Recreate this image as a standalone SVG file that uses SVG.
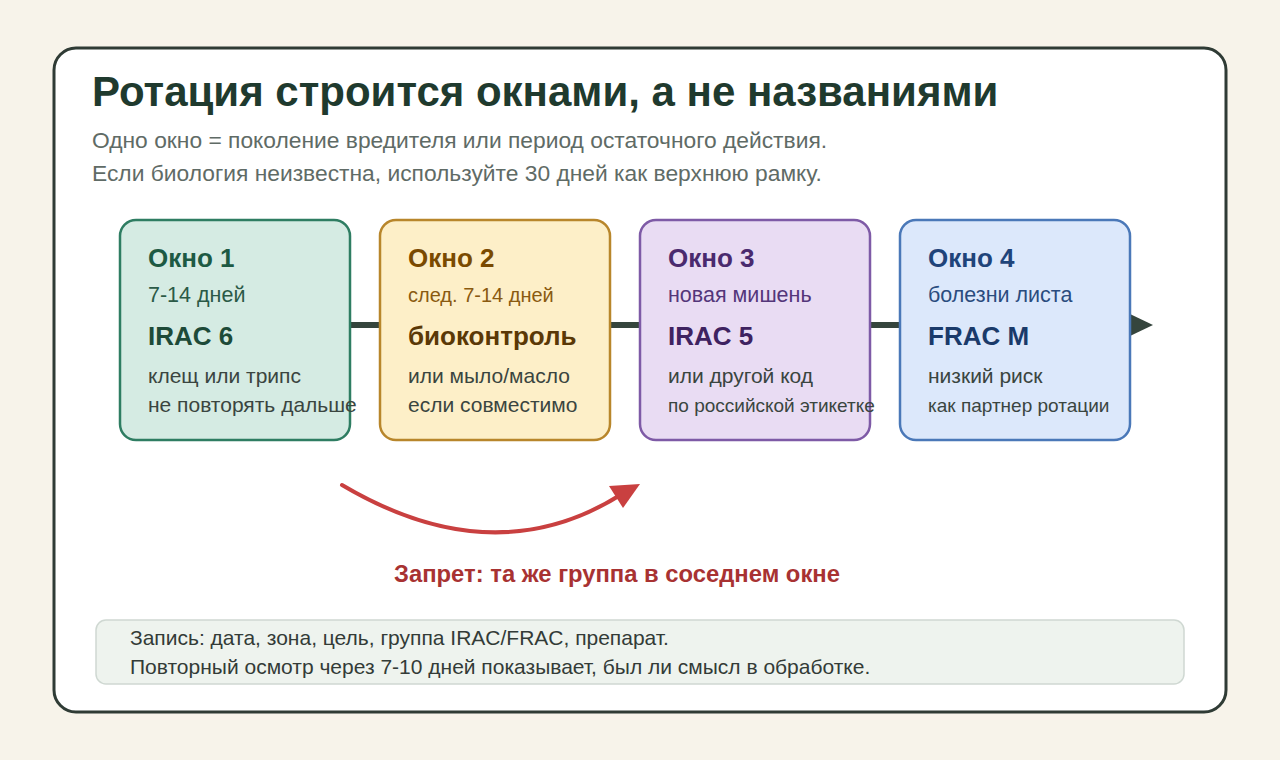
<svg xmlns="http://www.w3.org/2000/svg" width="1280" height="760" viewBox="0 0 1280 760">
<defs>
<style>
text{font-family:"Liberation Sans",Arial,sans-serif}
.t{font-size:42px;font-weight:bold;fill:#1f3a2e}
.s{font-size:22.8px;fill:#5f6b66}
.h{font-size:26px;font-weight:bold}
.m{font-size:21.5px}
.b{font-size:21px;fill:#3a4540}
.bs{font-size:19px;fill:#3a4540}
.n{font-size:21px;fill:#333b37}
.box{stroke-width:2.5}
</style>
</defs>
<rect x="0" y="0" width="1280" height="760" fill="#f7f3ea"/>
<rect x="54" y="48" width="1172" height="664" rx="22" fill="#ffffff" stroke="#2f3b35" stroke-width="3"/>
<text class="t" x="92" y="106">Ротация строится окнами, а не названиями</text>
<text class="s" x="92" y="148">Одно окно = поколение вредителя или период остаточного действия.</text>
<text class="s" x="92" y="181">Если биология неизвестна, используйте 30 дней как верхнюю рамку.</text>
<g id="connectors">
<line x1="340" y1="325" x2="1132" y2="325" stroke="#35453d" stroke-width="6"/>
<polygon points="1130,314 1153,325 1130,336" fill="#35453d"/>
<path d="M342,485 Q494,575 622,494" fill="none" stroke="#c94040" stroke-width="4" stroke-linecap="round"/>
<polygon points="640,484 609,486 623,508" fill="#c94040"/>
</g>
<g id="window1">
<rect class="box" x="120" y="220" width="230" height="220" rx="16" fill="#d5ebe3" stroke="#2e7d62"/>
<text class="h" x="148" y="267" fill="#1d5a43">Окно 1</text>
<text class="m" x="148" y="302" fill="#2b5a47">7-14 дней</text>
<text class="h" x="148" y="345" fill="#1d4a38">IRAC 6</text>
<text class="b" x="148" y="383">клещ или трипс</text>
<text class="b" x="148" y="412">не повторять дальше</text>
</g>
<g id="window2">
<rect class="box" x="380" y="220" width="230" height="220" rx="16" fill="#fdefc8" stroke="#b8862b"/>
<text class="h" x="408" y="267" fill="#7a4a00">Окно 2</text>
<text x="408" y="302" fill="#8a5a10" style="font-size:20px">след. 7-14 дней</text>
<text class="h" x="408" y="345" fill="#5a3806">биоконтроль</text>
<text class="b" x="408" y="383">или мыло/масло</text>
<text class="b" x="408" y="412">если совместимо</text>
</g>
<g id="window3">
<rect class="box" x="640" y="220" width="230" height="220" rx="16" fill="#e9dcf3" stroke="#7e5aa6"/>
<text class="h" x="668" y="267" fill="#4a2a6e">Окно 3</text>
<text class="m" x="668" y="302" fill="#54367a">новая мишень</text>
<text class="h" x="668" y="345" fill="#3e2260">IRAC 5</text>
<text class="b" x="668" y="383">или другой код</text>
<text class="bs" x="668" y="412">по российской этикетке</text>
</g>
<g id="window4">
<rect class="box" x="900" y="220" width="230" height="220" rx="16" fill="#dce8fb" stroke="#4a78b8"/>
<text class="h" x="928" y="267" fill="#1f447a">Окно 4</text>
<text class="m" x="928" y="302" fill="#2a4c7e">болезни листа</text>
<text class="h" x="928" y="345" fill="#1a3a6a">FRAC M</text>
<text class="b" x="928" y="383">низкий риск</text>
<text class="bs" x="928" y="412">как партнер ротации</text>
</g>
<g id="ban-label">
<text x="617" y="582" text-anchor="middle" style="font-size:23.8px;font-weight:bold;fill:#a83232">Запрет: та же группа в соседнем окне</text>
</g>
<g id="note">
<rect x="96" y="620" width="1088" height="64" rx="10" fill="#eef3ee" stroke="#cfd8d2" stroke-width="1.5"/>
<text class="n" x="130" y="645">Запись: дата, зона, цель, группа IRAC/FRAC, препарат.</text>
<text class="n" x="130" y="674">Повторный осмотр через 7-10 дней показывает, был ли смысл в обработке.</text>
</g>
</svg>
